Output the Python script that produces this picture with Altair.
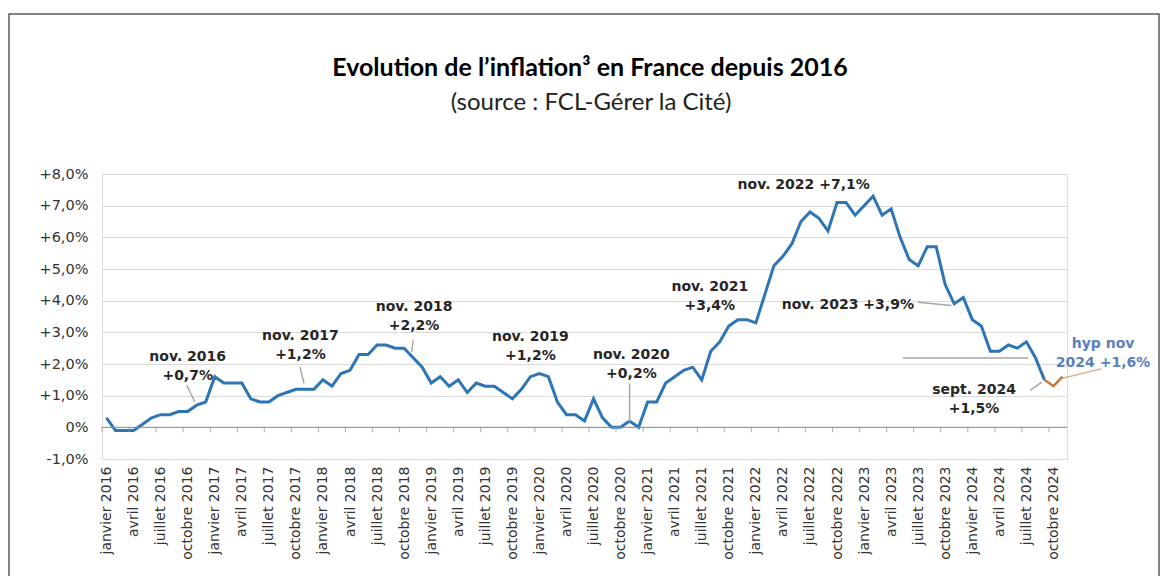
import altair as alt
import pandas as pd

# Monthly inflation (%)
V2016 = [0.3, -0.1, -0.1, -0.1, 0.1, 0.3, 0.4, 0.4, 0.5, 0.5, 0.7, 0.8]
V2017 = [1.6, 1.4, 1.4, 1.4, 0.9, 0.8, 0.8, 1.0, 1.1, 1.2, 1.2, 1.2]
V2018 = [1.5, 1.3, 1.7, 1.8, 2.3, 2.3, 2.6, 2.6, 2.5, 2.5, 2.2, 1.9]
V2019 = [1.4, 1.6, 1.3, 1.5, 1.1, 1.4, 1.3, 1.3, 1.1, 0.9, 1.2, 1.6]
V2020 = [1.7, 1.6, 0.8, 0.4, 0.4, 0.2, 0.9, 0.3, 0.0, 0.0, 0.2, 0.0]
V2021 = [0.8, 0.8, 1.4, 1.6, 1.8, 1.9, 1.5, 2.4, 2.7, 3.2, 3.4, 3.4]
V2022 = [3.3, 4.2, 5.1, 5.4, 5.8, 6.5, 6.8, 6.6, 6.2, 7.1, 7.1, 6.7]
V2023 = [7.0, 7.3, 6.7, 6.9, 6.0, 5.3, 5.1, 5.7, 5.7, 4.5, 3.9, 4.1]
V2024 = [3.4, 3.2, 2.4, 2.4, 2.6, 2.5, 2.7, 2.2, 1.5]
# hypothesis: sept. 2024, oct. 2024, nov. 2024
HYP_MONTHS = [104, 105, 106]
HYP_VALUES = [1.5, 1.3, 1.6]

YEARS = [2016, 2017, 2018, 2019, 2020, 2021, 2022, 2023, 2024]
TICK_MONTHS = ["janvier", "avril", "juillet", "octobre"]

# annotations: text, month index, value (block centre)
ANN_TEXT = ["nov. 2016\n+0,7%", "nov. 2017\n+1,2%", "nov. 2018\n+2,2%",
            "nov. 2019\n+1,2%", "nov. 2020\n+0,2%", "nov. 2021\n+3,4%",
            "nov. 2022 +7,1%", "nov. 2023 +3,9%", "sept. 2024\n+1,5%"]
ANN_M = [9.0, 21.5, 34.1, 47.0, 58.2, 66.9, 77.3, 82.2, 96.2]
ANN_V = [2.21, 2.87, 3.79, 2.84, 2.27, 4.44, 7.64, 3.85, 1.17]
HYP_TEXT = ["hyp nov\n2024 +1,6%"]
HYP_M = [110.5]
HYP_V = [2.63]

# leader lines
LEAD_M = [8.9, 21.45, 34.0, 58.0, 89.97, 102.4, 88.3]
LEAD_V = [1.33, 1.90, 2.75, 1.39, 3.95, 1.17, 2.19]
LEAD_M2 = [9.8, 21.9, 33.85, 58.0, 93.7, 103.7, 102.2]
LEAD_V2 = [0.80, 1.39, 2.38, 0.17, 3.85, 1.43, 2.19]
HYP_LEAD = {"m": [110.3], "v": [1.85], "m2": [105.9], "v2": [1.54]}

series = V2016 + V2017 + V2018 + V2019 + V2020 + V2021 + V2022 + V2023 + V2024
main_df = pd.DataFrame({"m": list(range(len(series))), "v": series})
hyp_df = pd.DataFrame({"m": HYP_MONTHS, "v": HYP_VALUES})

tick_labels = [f"{mo} {yr}" for yr in YEARS for mo in TICK_MONTHS][:36]
label_expr = "[" + ",".join(f"'{t}'" for t in tick_labels) + "][round(datum.value/3)]"

FONT = "DejaVu Sans"
xscale = alt.Scale(domain=[-0.5, 106.5], nice=False, zero=False)
yscale = alt.Scale(domain=[-1, 8], nice=False, zero=False)

x_axis = alt.Axis(values=list(range(0, 106, 3)), tickCount=200, labelExpr=label_expr,
                  labelAngle=270, labelAlign="right", labelBaseline="middle", grid=False,
                  ticks=False, domain=False, labelPadding=7, labelFont=FONT,
                  labelFontSize=14, labelColor="#333333", labelOverlap=False,
                  labelFlush=False, labelBound=False)
y_axis = alt.Axis(values=list(range(-1, 9)), tickCount=50, grid=True, gridColor="#d9d9d9",
                  gridWidth=1, ticks=False, domain=False, labelPadding=14, labelFont=FONT,
                  labelFontSize=14.5, labelColor="#333333", labelOverlap=False,
                  labelExpr="datum.value == 0 ? '0%' : (datum.value < 0 ? '-' : '+') + "
                            "replace(format(abs(datum.value), '.1f'), '.', ',') + '%'")

main_line = alt.Chart(main_df).mark_line(color="#2e75b6", strokeWidth=3).encode(
    x=alt.X("m:Q", scale=xscale, axis=x_axis, title=None),
    y=alt.Y("v:Q", scale=yscale, axis=y_axis, title=None),
)

hyp_line = alt.Chart(hyp_df).mark_line(color="#c67a3a", strokeWidth=2.5).encode(
    x=alt.X("m:Q", title=None), y=alt.Y("v:Q", title=None))

zero_rule = alt.Chart(pd.DataFrame({"v": [0]})).mark_rule(color="#8c8c8c", strokeWidth=1).encode(
    y=alt.Y("v:Q", title=None))

ticks_df = pd.DataFrame({"m": [-0.5 + 3 * k for k in range(36)], "v": [0] * 36})
ticks = alt.Chart(ticks_df).mark_tick(orient="vertical", size=5, thickness=1,
                                      color="#8c8c8c", yOffset=2.5).encode(
    x=alt.X("m:Q", title=None), y=alt.Y("v:Q", title=None))

lead_df = pd.DataFrame({"m": LEAD_M, "v": LEAD_V, "m2": LEAD_M2, "v2": LEAD_V2})
leaders = alt.Chart(lead_df).mark_rule(color="#a6a6a6", strokeWidth=1.5).encode(
    x=alt.X("m:Q", title=None), y=alt.Y("v:Q", title=None), x2="m2:Q", y2="v2:Q")
hyp_leader = alt.Chart(pd.DataFrame(HYP_LEAD)).mark_rule(color="#d9b38c", strokeWidth=1.5).encode(
    x=alt.X("m:Q", title=None), y=alt.Y("v:Q", title=None), x2="m2:Q", y2="v2:Q")

ann_df = pd.DataFrame({"m": ANN_M, "v": ANN_V, "t": ANN_TEXT})
ann = alt.Chart(ann_df).mark_text(font=FONT, fontSize=14, fontWeight="bold", color="#262626",
                                  lineBreak="\n", lineHeight=19, align="center",
                                  baseline="middle").encode(
    x=alt.X("m:Q", title=None), y=alt.Y("v:Q", title=None), text="t:N")
hyp_ann_df = pd.DataFrame({"m": HYP_M, "v": HYP_V, "t": HYP_TEXT})
hyp_ann = alt.Chart(hyp_ann_df).mark_text(font=FONT, fontSize=14, fontWeight="bold",
                                          color="#5b80bd", lineBreak="\n", lineHeight=19,
                                          align="center", baseline="middle").encode(
    x=alt.X("m:Q", title=None), y=alt.Y("v:Q", title=None), text="t:N")

one = pd.DataFrame({"a": [0]})
frame = alt.Chart(one).mark_rect(filled=False, stroke="#595959", strokeWidth=1.5).encode(
    x=alt.value(-93), x2=alt.value(1057), y=alt.value(-160), y2=alt.value(420))
title = alt.Chart(one).mark_text(font="Lato", fontSize=25, fontWeight="bold", color="#000000",
                                 align="center", baseline="middle").encode(
    x=alt.value(488), y=alt.value(-106), text=alt.value("Evolution de l’inflation³ en France depuis 2016"))
subtitle = alt.Chart(one).mark_text(font="Lato", fontSize=24, color="#222222",
                                    align="center", baseline="middle").encode(
    x=alt.value(489), y=alt.value(-71), text=alt.value("(source : FCL-Gérer la Cité)"))

chart = alt.layer(
    main_line, frame, leaders, hyp_leader, zero_rule, ticks, hyp_line, ann, hyp_ann, title, subtitle
).properties(
    width=965, height=285,
    autosize=alt.AutoSizeParams(type="none"),
    padding={"left": 94, "top": 166, "right": 93, "bottom": 117},
).configure_view(stroke=None).configure(background="white")

chart.save("out.html", embed_options={"renderer": "svg", "actions": False})
